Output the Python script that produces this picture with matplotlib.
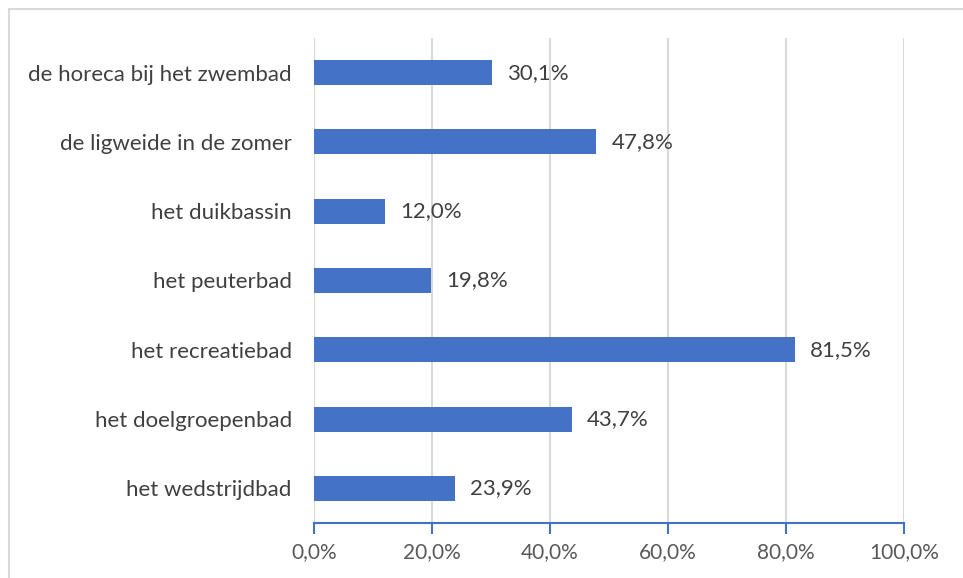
import matplotlib.pyplot as plt
from matplotlib.patches import Rectangle

categories = ["het wedstrijdbad", "het doelgroepenbad", "het recreatiebad",
              "het peuterbad", "het duikbassin", "de ligweide in de zomer",
              "de horeca bij het zwembad"]
values = [23.9, 43.7, 81.5, 19.8, 12.0, 47.8, 30.1]
xticks = [0, 20, 40, 60, 80, 100]

plt.rcParams['font.family'] = ['Lato', 'DejaVu Sans']

fig = plt.figure(figsize=(9.63, 5.78), dpi=100)
ax = fig.add_axes([314 / 963, 1 - 523 / 578, 590 / 963, 485 / 578])

ax.barh(range(len(categories)), values, height=0.36, color="#4472C4", zorder=3)
for i, v in enumerate(values):
    ax.text(v + 2.6, i, f"{v:.1f}".replace(".", ",") + "%", va="center", ha="left",
            fontsize=16, color="#404040")

ax.set_xlim(0, 100)
ax.set_ylim(-0.5, len(categories) - 0.5)
ax.set_xticks(xticks)
ax.set_xticklabels([f"{t:.1f}".replace(".", ",") + "%" for t in xticks],
                   fontsize=15, color="#595959")
ax.set_yticks(range(len(categories)))
ax.set_yticklabels(categories, fontsize=16, color="#404040")
ax.tick_params(axis="y", length=0, pad=16)
ax.tick_params(axis="x", length=8, width=1.5, color="#4472C4", pad=6)
ax.grid(axis="x", color="#D9D9D9", linewidth=1.5, zorder=0)
for s in ["top", "right", "left"]:
    ax.spines[s].set_visible(False)
ax.spines["bottom"].set_color("#4472C4")
ax.spines["bottom"].set_linewidth(1.5)

fig.patches.append(Rectangle((9 / 963, -0.1), 2, 1.1 - 9 / 578, transform=fig.transFigure,
                             fill=False, edgecolor="#D9D9D9", linewidth=1.5))

fig.savefig("out.png", dpi=100)
